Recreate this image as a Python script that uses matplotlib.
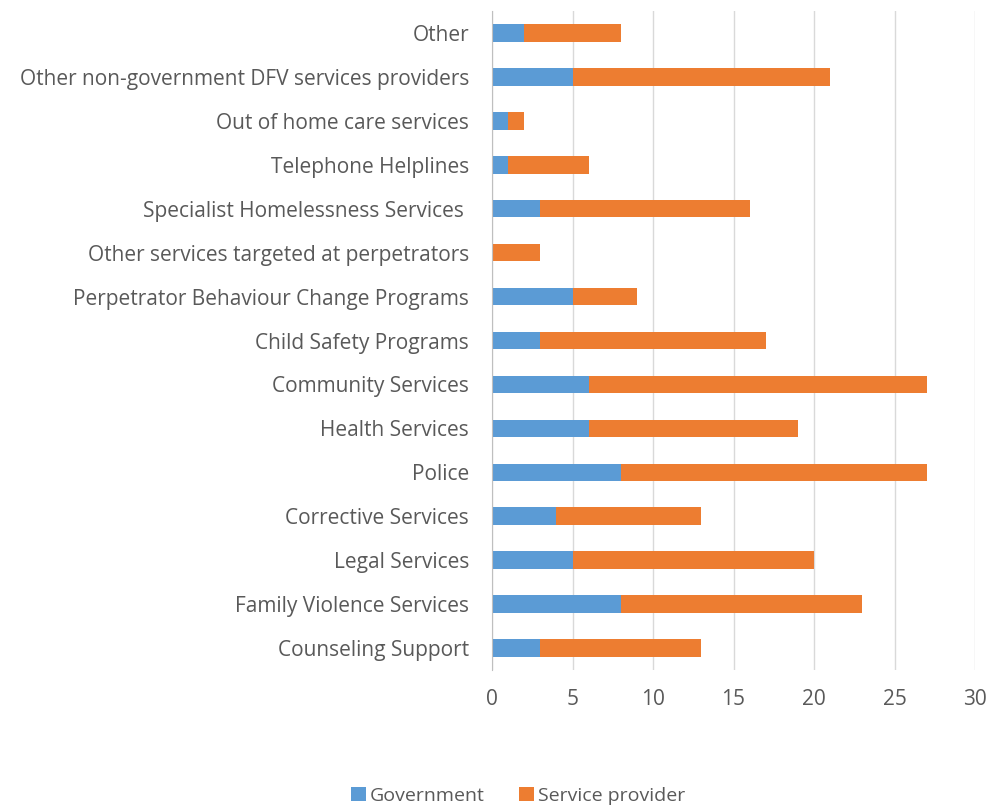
import numpy as np
import matplotlib.pyplot as plt

plt.rcParams['font.family'] = ['Open Sans', 'DejaVu Sans']

# Categories, top to bottom as in the chart
categories = [
    'Other',
    'Other non-government DFV services providers',
    'Out of home care services',
    'Telephone Helplines',
    'Specialist Homelessness Services ',
    'Other services targeted at perpetrators',
    'Perpetrator Behaviour Change Programs',
    'Child Safety Programs',
    'Community Services',
    'Health Services',
    'Police',
    'Corrective Services',
    'Legal Services',
    'Family Violence Services',
    'Counseling Support',
]
government = [2, 5, 1, 1, 3, 0, 5, 3, 6, 6, 8, 4, 5, 8, 3]
service_provider = [6, 16, 1, 5, 13, 3, 4, 14, 21, 13, 19, 9, 15, 15, 10]

fig = plt.figure(figsize=(9.9, 8.08), dpi=100)
ax = fig.add_axes([492 / 990, 1 - 670 / 808, (975 - 492) / 990, (670 - 11) / 808])

y = np.arange(len(categories))
ax.barh(y, government, height=0.4, color='#5B9BD5', label='Government')
ax.barh(y, service_provider, left=government, height=0.4, color='#ED7D31',
        label='Service provider')

ax.set_ylim(len(categories) - 0.5, -0.5)
ax.set_xlim(0, 30)
ax.set_xticks(range(0, 31, 5))
ax.set_yticks(y)
ax.set_yticklabels(categories)
ax.tick_params(axis='both', length=0, labelsize=15, colors='#595959')
ax.tick_params(axis='x', pad=14)
ax.tick_params(axis='y', pad=16.5)
ax.grid(axis='x', color='#D9D9D9', linewidth=1)
ax.set_axisbelow(True)
for s in ['top', 'right', 'bottom']:
    ax.spines[s].set_visible(False)
ax.spines['left'].set_color('#BFBFBF')

fig.legend(loc='center', bbox_to_anchor=(518 / 990, 1 - 796 / 808), ncol=2,
           frameon=False, fontsize=14, labelcolor='#595959',
           handlelength=0.75, handleheight=0.75, handletextpad=0.2, columnspacing=1.8)

plt.savefig('out.png', dpi=100)
